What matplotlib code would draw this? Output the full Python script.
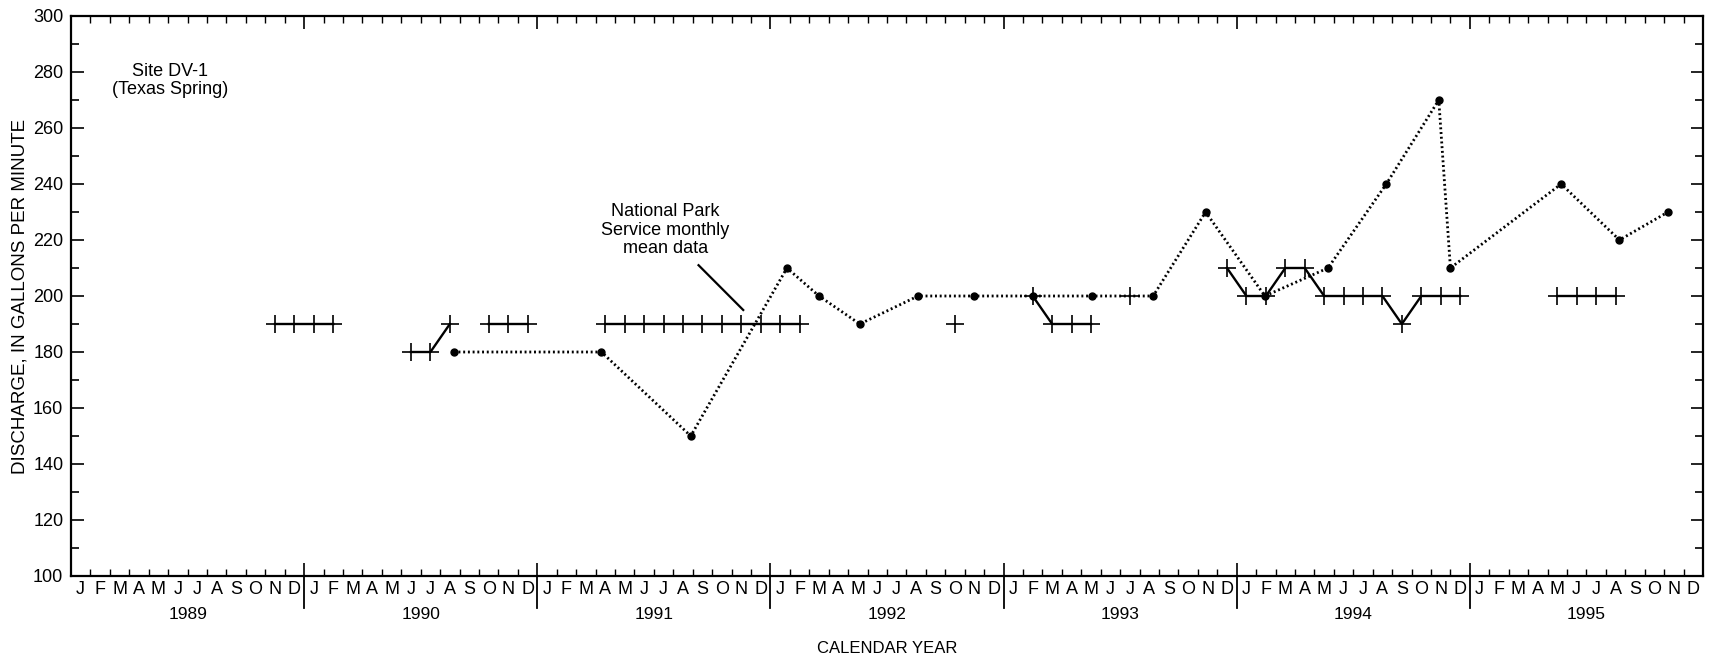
import numpy as np
import matplotlib
matplotlib.use("Agg")
import matplotlib.pyplot as plt
from matplotlib.transforms import blended_transform_factory

plt.rcParams['font.family'] = ['Liberation Sans', 'DejaVu Sans']

# ---------------- data ----------------
years = [1989, 1990, 1991, 1992, 1993, 1994, 1995]
month_letters = ['J', 'F', 'M', 'A', 'M', 'J', 'J', 'A', 'S', 'O', 'N', 'D']

# Measured discharge (plus markers), one value per month Jan 1989 - Dec 1995 (NaN = no measurement)
N = np.nan
meas_1989 = [N, N, N, N, N, N, N, N, N, N, 190, 190]
meas_1990 = [190, 190, N, N, N, 180, 180, 190, N, 190, 190, 190]
meas_1991 = [N, N, N, 190, 190, 190, 190, 190, 190, 190, 190, 190]
meas_1992 = [190, 190, N, N, N, N, N, N, N, 190, N, N]
meas_1993 = [N, 200, 190, 190, 190, N, 200, N, N, N, N, 210]
meas_1994 = [200, 200, 210, 210, 200, 200, 200, 200, 190, 200, 200, 200]
meas_1995 = [N, N, N, N, 200, 200, 200, 200, N, N, N, N]

# National Park Service monthly mean data (dots); time in months since start of Jan 1989
nps_time = [19.7, 27.3, 31.9, 36.85, 38.5, 40.6, 43.6, 46.5, 49.5, 52.55,
            55.7, 58.4, 61.45, 64.7, 67.7, 70.4, 71.0, 76.7, 79.7, 82.2]
nps_value = [180, 180, 150, 210, 200, 190, 200, 200, 200, 200,
             200, 230, 200, 210, 240, 270, 210, 240, 220, 230]

meas = np.array(meas_1989 + meas_1990 + meas_1991 + meas_1992 +
                meas_1993 + meas_1994 + meas_1995, dtype=float)
meas_time = np.arange(len(meas)) + 0.5

# ---------------- figure ----------------
fig = plt.figure(figsize=(17.11, 6.62), dpi=100)
ax = fig.add_axes([71 / 1711, 86 / 662, 1632 / 1711, 560 / 662])

ax.plot(meas_time, meas, '-', color='black', lw=1.7, marker='+',
        markersize=13, markeredgewidth=1.2, zorder=3)
ax.plot(nps_time, nps_value, color='black', lw=2.0, linestyle=(0, (0.7, 1.0)),
        marker='o', markersize=5, zorder=4)

ax.set_xlim(0, 12 * len(years))
ax.set_ylim(100, 300)

for s in ax.spines.values():
    s.set_linewidth(1.6)

# y ticks
ax.set_yticks(np.arange(100, 301, 20))
ax.set_yticks(np.arange(110, 300, 20), minor=True)
ax.tick_params(axis='y', which='major', direction='in', length=9, width=1.2,
               left=True, right=True, labelsize=13, pad=5.5)
ax.tick_params(axis='y', which='minor', direction='in', length=5.5, width=1.2,
               left=True, right=True)

# x ticks: months minor, years major
ax.set_xticks(np.arange(0, 12 * len(years) + 1, 12))
ax.set_xticks(np.arange(0, 12 * len(years) + 1, 1), minor=True)
ax.tick_params(axis='x', which='major', direction='in', length=9.5, width=1.2,
               top=True, bottom=True, labelbottom=False)
ax.tick_params(axis='x', which='minor', direction='in', length=5, width=1.0,
               top=True, bottom=True)

tr = blended_transform_factory(ax.transData, ax.transAxes)
# year divider extending below the axis
for k in range(1, len(years)):
    ax.plot([12 * k, 12 * k], [-0.057, 0.0], transform=tr, color='black',
            lw=1.3, clip_on=False)

for yi, yr in enumerate(years):
    for mi, ml in enumerate(month_letters):
        ax.text(12 * yi + mi + 0.5, -0.025, ml, transform=tr, ha='center',
                va='center', fontsize=13)
    ax.text(12 * yi + 6, -0.068, str(yr), transform=tr, ha='center',
            va='center', fontsize=12.5)

ax.text(42, -0.13, 'CALENDAR YEAR', transform=tr, ha='center', va='center',
        fontsize=12)
fig.text(20 / 1711, (662 - 296) / 662, 'DISCHARGE, IN GALLONS PER MINUTE',
         rotation=90, ha='center', va='center', fontsize=13.5)

ax.text(5.1, 277, 'Site DV-1\n(Texas Spring)', ha='center', va='center',
        fontsize=13, linespacing=1.1)
ax.text(30.6, 223.5, 'National Park\nService monthly\nmean data', ha='center',
        va='center', fontsize=13, linespacing=1.1)
ax.plot([32.3, 34.6], [211, 195], color='black', lw=1.6)

fig.savefig('out.png', dpi=100)
